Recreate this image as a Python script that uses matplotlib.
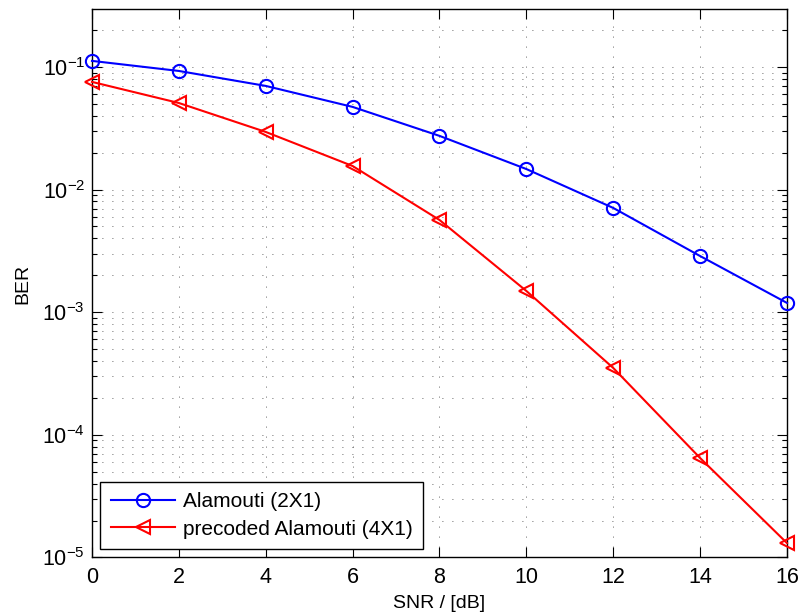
import matplotlib
matplotlib.use("Agg")
import matplotlib.pyplot as plt
from matplotlib.ticker import LogLocator, NullFormatter

plt.rcParams['font.family'] = ['Liberation Sans', 'DejaVu Sans']
plt.rcParams['mathtext.fontset'] = 'custom'
plt.rcParams['mathtext.rm'] = 'Liberation Sans'
plt.rcParams['mathtext.it'] = 'Liberation Sans:italic'
plt.rcParams['mathtext.bf'] = 'Liberation Sans:bold'
plt.rcParams['mathtext.default'] = 'regular'

snr = [0, 2, 4, 6, 8, 10, 12, 14, 16]
ber_alamouti = [0.112, 0.0927, 0.070, 0.0472, 0.0274, 0.0147, 0.00708, 0.00287, 0.00119]
ber_precoded = [0.0755, 0.0508, 0.0295, 0.01556, 0.00565, 0.00149, 3.51e-4, 6.47e-5, 1.31e-5]
labels = ['Alamouti (2X1)', 'precoded Alamouti (4X1)']
xticks = [0, 2, 4, 6, 8, 10, 12, 14, 16]

fig = plt.figure(figsize=(8.02, 6.16), dpi=100)
ax = fig.add_axes([0.1147, 0.095, 0.8666, 0.8896])

ax.semilogy(snr, ber_alamouti, '-o', color='#0000ff', lw=1.5, ms=9.5,
            mfc='none', mew=1.5, label=labels[0], clip_on=False, zorder=3)
ax.semilogy(snr, ber_precoded, '-<', color='#ff0000', lw=1.5, ms=10.5,
            mfc='none', mew=1.5, label=labels[1], clip_on=False, zorder=3)

ax.set_xlim(0, 16)
ax.set_ylim(1e-5, 0.294)
ax.set_xticks(xticks)
ax.yaxis.set_major_locator(LogLocator(base=10, numticks=10))
ax.yaxis.set_minor_locator(LogLocator(base=10, subs=range(2, 10), numticks=20))
ax.yaxis.set_minor_formatter(NullFormatter())

grid_kw = dict(color='#333333', lw=0.6, linestyle=(0, (1, 11)))
ax.grid(True, which='major', axis='both', **grid_kw)
ax.grid(True, which='minor', axis='y', **grid_kw)
ax.set_axisbelow(True)

ax.tick_params(which='both', direction='in', top=True, right=True, width=0.8)
ax.tick_params(axis='x', labelsize=15.5)
ax.tick_params(axis='y', labelsize=15.5)
ax.tick_params(which='major', length=7)
ax.tick_params(which='minor', length=3.5)
ax.tick_params(axis='x', which='major', pad=7)
ax.tick_params(axis='y', which='major', pad=5)
for s in ax.spines.values():
    s.set_linewidth(1.0)

ax.set_xlabel('SNR / [dB]', fontsize=14, labelpad=5)
ax.set_ylabel('BER', fontsize=14, labelpad=8)

leg = ax.legend(loc='lower left', fontsize=15, fancybox=False, framealpha=1,
                edgecolor='black', borderaxespad=0.4, handlelength=3.1,
                handletextpad=0.35, borderpad=0.5, labelspacing=0.42)
leg.get_frame().set_linewidth(1.0)

fig.savefig('out.png', dpi=100)
